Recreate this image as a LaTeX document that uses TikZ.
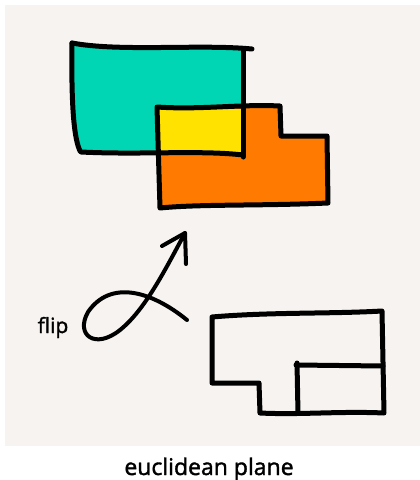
\documentclass[tikz,border=0pt]{standalone}
\usepackage{fontspec}
\newfontfamily\sketchfont{Open Sans}[FakeBold=1.6]
\usepackage{xcolor}
\usetikzlibrary{math}

\definecolor{paper}{RGB}{247,243,240}
\definecolor{teal}{RGB}{0,214,180}
\definecolor{orng}{RGB}{255,122,0}
\definecolor{yllw}{RGB}{255,226,0}

\tikzset{
  pen/.style={line width=5, line cap=round, line join=round},
  label/.style={inner sep=0pt}
}

\begin{document}
\begin{tikzpicture}[x=1pt, y=-1pt]
\tikzmath{
\W=420; \H=480;
}
\useasboundingbox (0,0) rectangle (\W,\H);
\fill[paper] (5,5) rectangle (\W,446);

% upper shapes
\fill[teal] (72,44) -- (243,50) -- (243,155) -- (80,153) .. controls (75,140) and (71,115) .. cycle;
\fill[orng] (157,107) -- (280,106) -- (281,136) -- (327,136) -- (328,203) -- (160,208) -- cycle;
\fill[yllw] (157,109) rectangle (243,154);

\draw[pen] (72,43) .. controls (120,52) and (200,44) .. (252,49);
\draw[pen] (243,50) -- (243,157);
\draw[pen] (81,152) .. controls (140,155) and (200,150) .. (243,155);
\draw[pen] (72,43) .. controls (71,115) and (75,140) .. (80,151);
\draw[pen] (157,107) .. controls (200,110) and (240,104) .. (280,106) -- (281,136) -- (327,136) -- (328,203)
  .. controls (260,206) and (200,204) .. (160,208) -- cycle;

% flip arrow
\coordinate (tail) at (187,320);
\coordinate (tip) at (185,233);
\coordinate (wingL) at (162,246);
\coordinate (wingR) at (186,264);
\draw[pen, line width=4] (tail) .. controls (150,290) and (110,280) .. (88,312)
  .. controls (75,335) and (95,350) .. (120,330)
  .. controls (145,310) and (165,270) .. (tip);
\draw[pen, line width=4] (wingL) -- (tip) -- (wingR);
\node[label, anchor=base, font=\sketchfont\fontsize{21}{25}\selectfont] (flip) at (53,333) {flip};

% lower outline
\draw[pen] (212,317) .. controls (270,312) and (330,314) .. (382,311) -- (384,413)
  .. controls (340,411) and (300,415) .. (260,413) -- (259,383) -- (212,383) -- cycle;
\draw[pen] (296,365) -- (383,366);
\draw[pen] (297,363) -- (298,413);

\node[label, anchor=base, font=\sketchfont\fontsize{23}{27}\selectfont] (caption) at (209,475) {euclidean plane};
\end{tikzpicture}
\end{document}
